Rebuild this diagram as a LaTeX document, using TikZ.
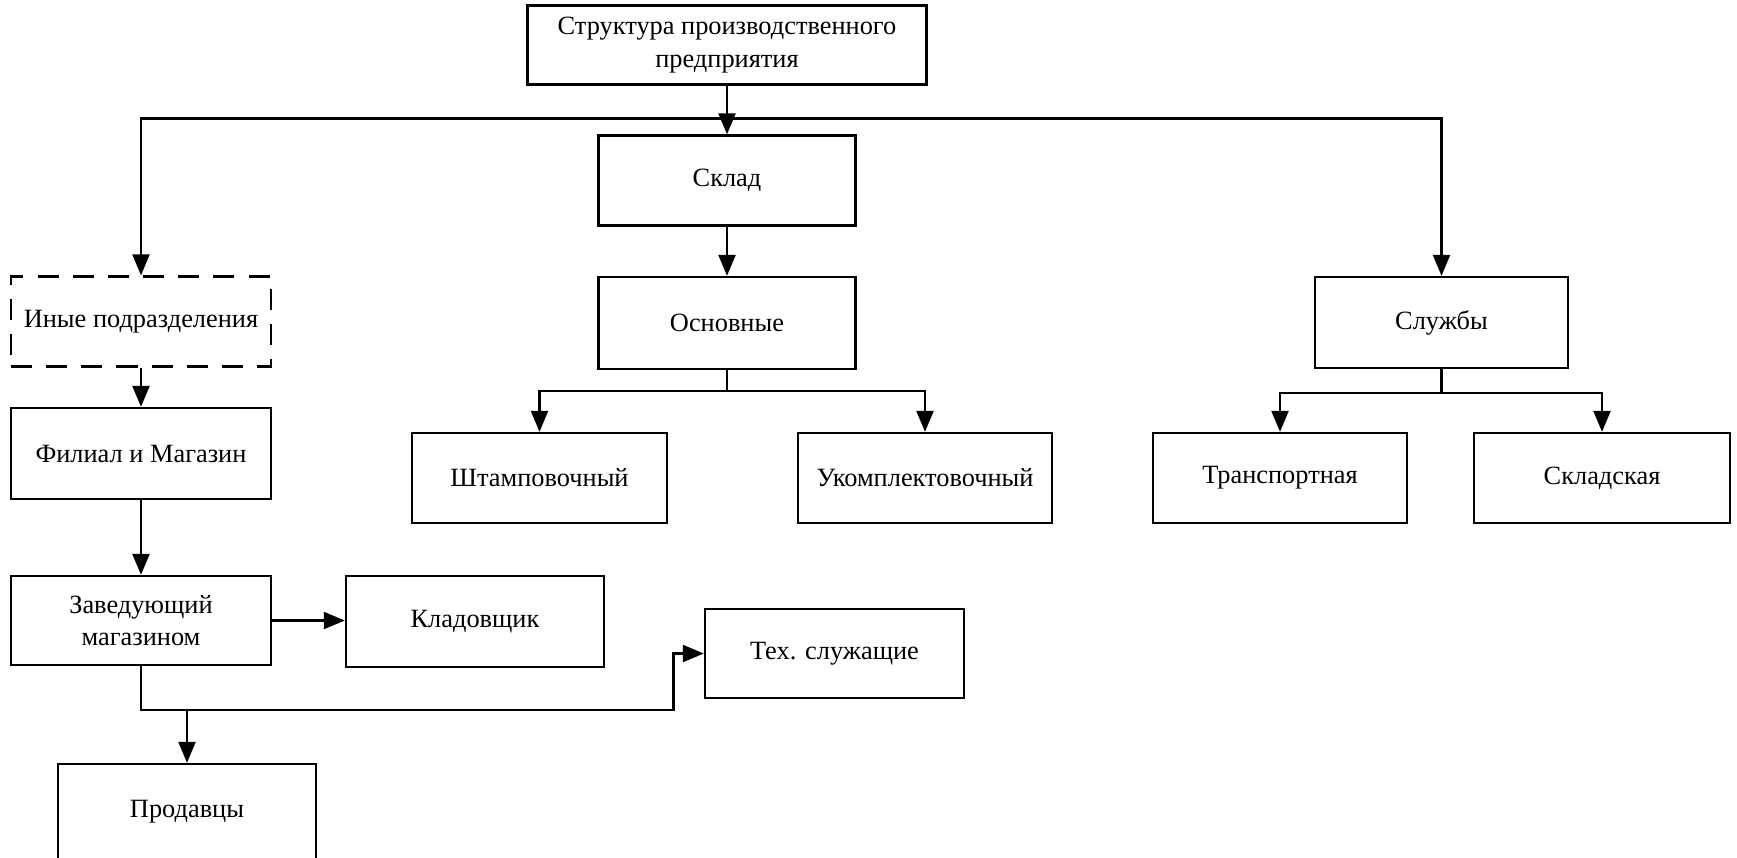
\documentclass[tikz,border=0pt]{standalone}
\usepackage{fontspec}
\setmainfont{Liberation Serif}
\usetikzlibrary{arrows.meta}

\begin{document}
\begin{tikzpicture}[x=0.01cm,y=-0.01cm,line width=0.65pt,
    font=\fontsize{7.5}{9.2}\selectfont,
    box/.style={draw, rectangle, inner sep=0pt, align=center,
      minimum width=2.57cm, minimum height=0.9cm},
    arr/.style={-{Triangle[length=2.1mm,width=1.7mm]}}]
  \useasboundingbox (0,0) rectangle (1737,857);

  \node[box, minimum width=3.99cm, minimum height=0.79cm] (B1) at (727,45) {Структура производственного\\предприятия};
  \node[box] (B2) at (727,180.5) {Склад};
  \node[box, minimum height=0.92cm] (B3) at (727,323) {Основные};
  \node[box, minimum width=2.55cm] (B4) at (539.5,478) {Штамповочный};
  \node[box, minimum width=2.54cm] (B5) at (925,478) {Укомплектовочный};
  \node[box, minimum width=2.53cm, minimum height=0.91cm] (B6) at (1441.5,322.5) {Службы};
  \node[box, minimum width=2.54cm] (B7) at (1280,478) {Транспортная};
  \node[box, minimum width=2.56cm] (B8) at (1602,478) {Складская};
  \node[box, minimum width=2.6cm, dash pattern=on 6pt off 4pt] (B9) at (141,321.5) {Иные подразделения};
  \node[box, minimum width=2.6cm, minimum height=0.91cm] (B10) at (141,453.5) {Филиал и Магазин};
  \node[box, minimum width=2.6cm, minimum height=0.89cm] (B11) at (141,620.5) {Заведующий\\магазином};
  \node[box, minimum width=2.58cm, minimum height=0.91cm] (B12) at (475,621.5) {Кладовщик};
  \node[box, minimum width=2.59cm, minimum height=0.89cm] (B13) at (834.5,653.5) {Тех. служащие};
  \node[box, minimum width=2.58cm, minimum height=0.96cm] (B14) at (187,812) {Продавцы};

  \coordinate (C1) at (0,118.5);
  \coordinate (C2) at (0,391);
  \coordinate (C3) at (0,393);
  \coordinate (C4) at (673.5,710);

  \draw[arr] (B1) -- (B2);
  \draw[arr] (B1.south |- C1) -| (B9.north);
  \draw[arr] (B1.south |- C1) -| (B6.north);
  \draw[arr] (B2) -- (B3);
  \draw (B3.south) -- (B3.south |- C2);
  \draw[arr] (B3.south |- C2) -| (B4.north);
  \draw[arr] (B3.south |- C2) -| (B5.north);
  \draw (B6.south) -- (B6.south |- C3);
  \draw[arr] (B6.south |- C3) -| (B7.north);
  \draw[arr] (B6.south |- C3) -| (B8.north);
  \draw[arr] (B9) -- (B10);
  \draw[arr] (B10) -- (B11);
  \draw[arr] (B11.east) -- (B12.west |- B11.east);
  \draw[arr] (B11.south) |- (C4) |- (B13.west);
  \draw[arr] (B14.north |- C4) -- (B14.north);
\end{tikzpicture}
\end{document}
